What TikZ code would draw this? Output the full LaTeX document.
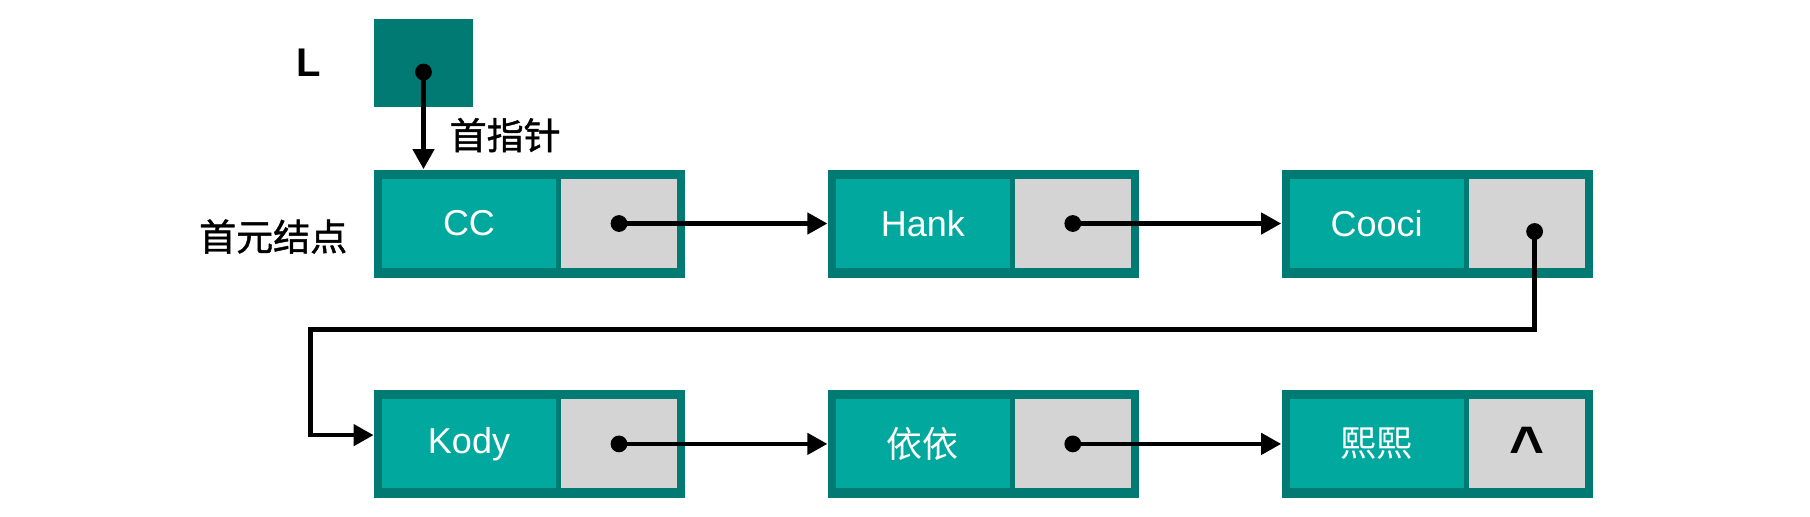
\documentclass[tikz,border=0pt]{standalone}
\usepackage{fontspec}
\setmainfont{Liberation Sans}
\setsansfont{Liberation Sans}
\newfontfamily\cjk{Noto Sans CJK SC}
\newfontfamily\cjkmid[FakeBold=1.2]{Noto Sans CJK SC}
\usetikzlibrary{positioning, arrows.meta, calc}
\definecolor{tealdark}{HTML}{007A73}
\definecolor{tealmid}{HTML}{00A89D}
\definecolor{ptrgrey}{HTML}{D4D4D4}
\tikzset{
  listnode/.style={rectangle, fill=tealdark, minimum width=155.5pt, minimum height=54pt, inner sep=0pt},
  datafld/.style={rectangle, fill=tealmid, minimum width=87pt, minimum height=44.5pt, inner sep=0pt, text=white, font=\fontsize{18}{20}\selectfont},
  ptrfld/.style={rectangle, fill=ptrgrey, minimum width=58pt, minimum height=44.5pt, inner sep=0pt},
  headbox/.style={rectangle, fill=tealdark, minimum width=49.5pt, minimum height=44.3pt, inner sep=0pt},
  dot/.style={circle, fill=black, minimum size=8.4pt, inner sep=0pt},
  lbl/.style={inner sep=0pt, font=\fontsize{18.5}{20}\selectfont\cjkmid},
  arrow/.style={line width=2.2pt, -{Triangle[length=10pt,width=10.5pt]}}
}
\begin{document}
\begin{tikzpicture}[x=0.5pt, y=-0.5pt]
    \useasboundingbox (0,0) rectangle (1810,516);

    % first row
    \node (n1) [listnode] at (529.5,223.5) {};
    \node (n2) [listnode, right=71pt of n1] {};
    \node (n3) [listnode, right=71pt of n2] {};
    % second row
    \node (n4) [listnode, below=55.8pt of n1] {};
    \node (n5) [listnode, right=71pt of n4] {};
    \node (n6) [listnode, right=71pt of n5] {};

    \node (d1) [datafld, anchor=west] at ([xshift=4pt]n1.west) {CC};
    \node (p1) [ptrfld, anchor=east] at ([xshift=-4pt]n1.east) {};
    \node (d2) [datafld, anchor=west] at ([xshift=4pt]n2.west) {Hank};
    \node (p2) [ptrfld, anchor=east] at ([xshift=-4pt]n2.east) {};
    \node (d3) [datafld, anchor=west] at ([xshift=4pt]n3.west) {Cooci};
    \node (p3) [ptrfld, anchor=east] at ([xshift=-4pt]n3.east) {};
    \node (d4) [datafld, anchor=west] at ([xshift=4pt]n4.west) {Kody};
    \node (p4) [ptrfld, anchor=east] at ([xshift=-4pt]n4.east) {};
    \node (d5) [datafld, anchor=west] at ([xshift=4pt]n5.west) {\cjk 依依};
    \node (p5) [ptrfld, anchor=east] at ([xshift=-4pt]n5.east) {};
    \node (d6) [datafld, anchor=west] at ([xshift=4pt]n6.west) {\cjk 熙熙};
    \node (p6) [ptrfld, anchor=east] at ([xshift=-4pt]n6.east) {};
    \node (nil) [font=\fontsize{30}{30}\selectfont\bfseries, yshift=-1.8pt] at (p6) {\textasciicircum};

    % head pointer
    \node (lbox) [headbox, anchor=south west] at ([yshift=30.8pt]n1.north west) {};
    \node (lname) [inner sep=0pt, font=\fontsize{20}{22}\selectfont\bfseries, left=26pt of lbox] {L};
    \node (first) [lbl, left=13pt of n1, yshift=-6.5pt] {首元结点};

    \node (ld) [dot] at ([yshift=-4.6pt]lbox.center) {};
    \node (pd1) [dot] at (p1) {};
    \node (pd2) [dot] at (p2) {};
    \node (pd3) [dot] at ([xshift=4pt, yshift=-4pt]p3.center) {};
    \node (pd4) [dot] at (p4) {};
    \node (pd5) [dot] at (p5) {};

    \draw [arrow] (ld.center) -- node[lbl, right=12pt, pos=0.65] {首指针} (ld.center |- n1.north);
    \draw [arrow] (pd1.center) -- (n2.west);
    \draw [arrow] (pd2.center) -- (n3.west);

    % wrap to the second row
    \coordinate (turn) at ($(n4.north west)+(-31.5pt,30pt)$);
    \draw [arrow] (pd3.center) |- (turn) |- ([yshift=4.4pt]n4.west);

    \draw [arrow] (pd4.center) -- (n5.west);
    \draw [arrow] (pd5.center) -- (n6.west);
\end{tikzpicture}
\end{document}
